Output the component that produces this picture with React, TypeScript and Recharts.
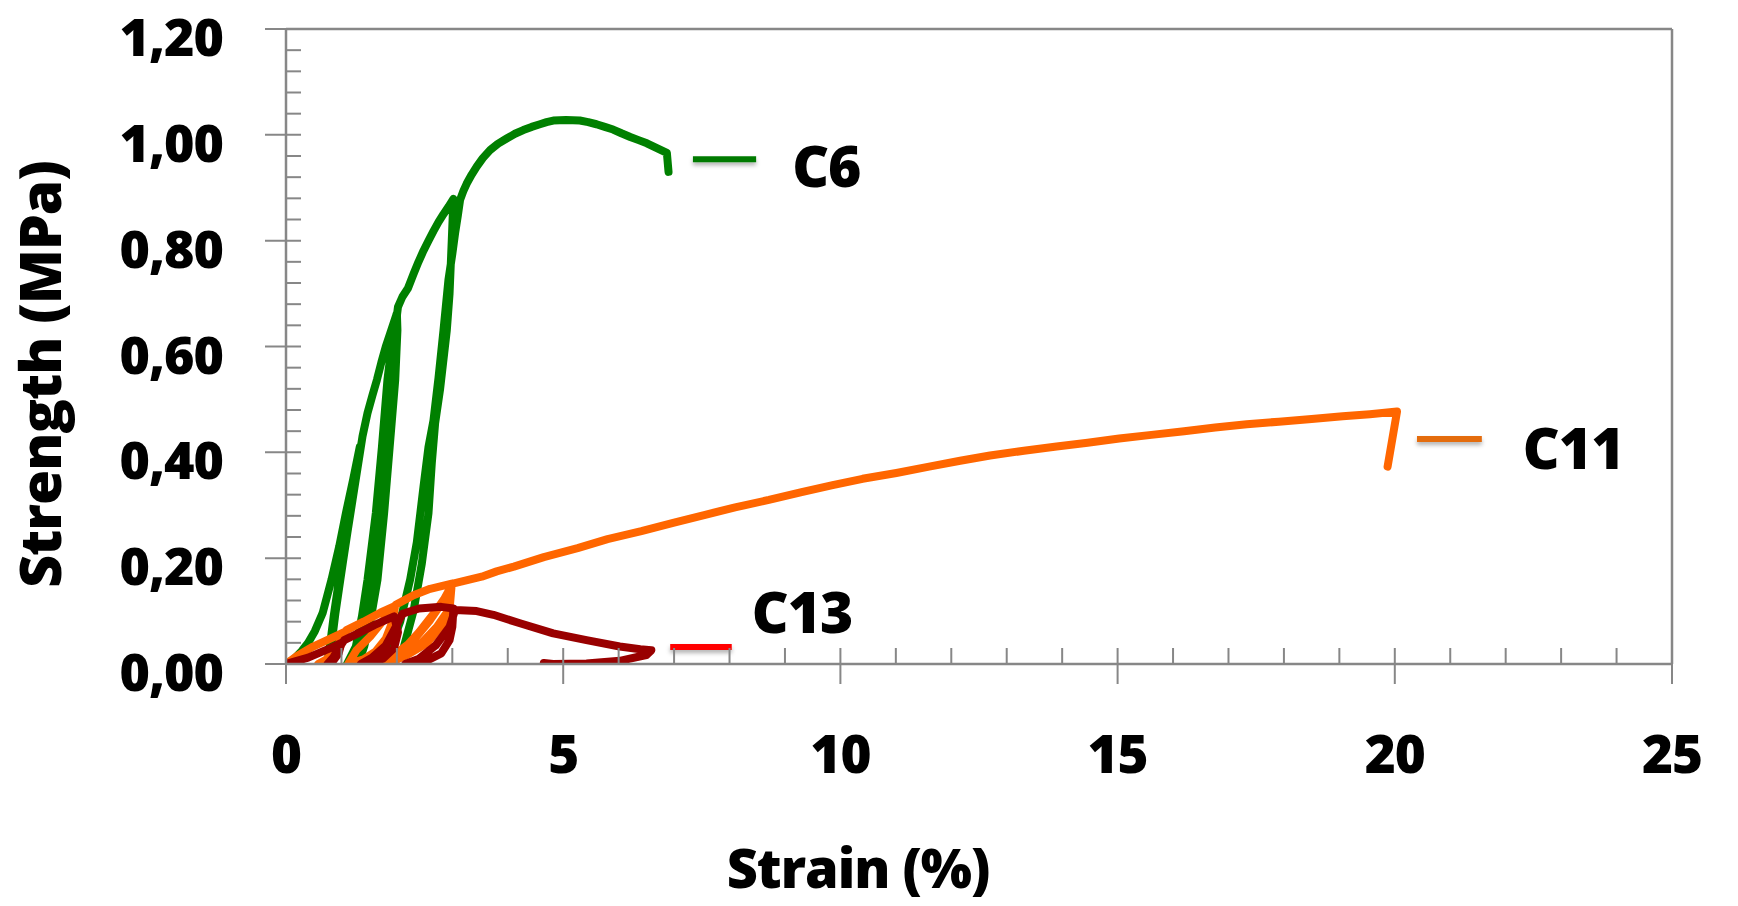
import { Line, LineChart, ReferenceLine, XAxis, YAxis } from 'recharts';

// axis ticks (minor ticks included; majors get a label)
const X_TICKS = [0, 1, 2, 3, 4, 5, 6, 7, 8, 9, 10, 11, 12, 13, 14, 15, 16, 17, 18, 19, 20, 21, 22, 23, 24, 25];
const Y_TICKS = [
  0, 0.04, 0.08, 0.12, 0.16, 0.2, 0.24, 0.28, 0.32, 0.36, 0.4, 0.44, 0.48, 0.52, 0.56, 0.6,
  0.64, 0.68, 0.72, 0.76, 0.8, 0.84, 0.88, 0.92, 0.96, 1.0, 1.04, 1.08, 1.12, 1.16, 1.2,
];

// C6: cyclic loading, three unload/reload loops then failure
const C6_STRAIN = [
  0, 0.13, 0.28, 0.4, 0.52, 0.66, 0.82, 0.96, 1.08, 1.21, 1.33,
  1.26, 1.17, 1.08, 1.0, 0.93, 0.86, 0.8, 0.76, 0.73,
  0.78, 0.83, 0.89, 0.96, 1.03, 1.11, 1.2, 1.29, 1.38, 1.47, 1.56, 1.64, 1.72, 1.8, 1.88, 1.94, 2.0,
  2.01, 1.97, 1.87, 1.77, 1.65, 1.52, 1.41, 1.3, 1.1,
  1.26, 1.37, 1.47, 1.62, 1.73, 1.83, 1.94, 1.99,
  1.97, 1.91, 1.8, 1.7, 1.56, 1.45, 1.33, 1.2,
  1.36, 1.5, 1.62, 1.72, 1.82, 1.92, 2.02,
  2.1, 2.2, 2.3, 2.39, 2.48, 2.57, 2.66, 2.75, 2.84, 2.93, 3.02,
  2.99, 2.95, 2.9, 2.78, 2.69, 2.63, 2.57, 2.45, 2.3, 2.12, 1.94, 1.7,
  1.88, 2.06, 2.24, 2.36, 2.48, 2.57, 2.66, 2.75, 2.84, 2.93, 3.0, 3.05, 3.1, 3.14, 3.2, 3.26, 3.35,
  3.44, 3.55, 3.68, 3.82, 3.98, 4.13, 4.28, 4.43, 4.58, 4.7, 4.82, 5.05, 5.3, 5.45, 5.6, 5.75, 5.9,
  6.05, 6.21, 6.36, 6.51, 6.69, 6.87, 6.9,
];
const C6_STRENGTH = [
  0, 0.008, 0.024, 0.04, 0.062, 0.096, 0.159, 0.222, 0.285, 0.348, 0.41,
  0.36, 0.3, 0.245, 0.19, 0.14, 0.09, 0.04, 0.012, 0,
  0.014, 0.045, 0.095, 0.145, 0.195, 0.25, 0.31, 0.37, 0.43, 0.474, 0.508, 0.537, 0.57, 0.6, 0.625, 0.644, 0.663,
  0.631, 0.537, 0.41, 0.285, 0.159, 0.08, 0.033, 0, 0,
  0.033, 0.09, 0.159, 0.285, 0.41, 0.537, 0.631, 0.66,
  0.6, 0.537, 0.41, 0.285, 0.159, 0.08, 0.033, 0,
  0.04, 0.13, 0.24, 0.36, 0.48, 0.59, 0.675,
  0.694, 0.71, 0.737, 0.76, 0.781, 0.8, 0.818, 0.835, 0.85, 0.864, 0.879,
  0.8, 0.7, 0.63, 0.52, 0.455, 0.38, 0.285, 0.19, 0.1, 0.03, 0, 0,
  0.03, 0.08, 0.16, 0.23, 0.335, 0.41, 0.46, 0.54, 0.63, 0.726, 0.775, 0.814, 0.848, 0.877, 0.894, 0.908, 0.925,
  0.94, 0.956, 0.971, 0.983, 0.993, 1.002, 1.009, 1.015, 1.02, 1.024, 1.027, 1.028, 1.027, 1.024, 1.02, 1.015, 1.01,
  1.003, 0.996, 0.99, 0.984, 0.975, 0.966, 0.93,
];

// C11
const C11_STRAIN = [
  0, 0.2, 0.49, 0.8, 1.05,
  1.0, 0.92, 0.78, 0.58,
  0.72, 0.88, 1.0, 1.09, 1.4, 1.7, 1.97,
  1.92, 1.8, 1.62, 1.4, 1.12,
  1.27, 1.52, 1.76, 1.98, 2.3, 2.6, 2.99,
  2.96, 2.84, 2.54, 2.18, 1.95, 1.72,
  1.99, 2.3, 2.6, 2.84, 2.97,
  2.92, 2.72, 2.45, 2.15, 1.9, 1.8,
  2.1, 2.4, 2.7, 2.9, 3.01,
  3.25, 3.53, 3.8, 4.11, 4.65, 5.26, 5.8, 6.41, 7.0, 7.56, 8.1, 8.71, 9.3, 9.86, 10.4, 11.01, 11.6, 12.16,
  12.7, 13.31, 13.9, 14.46, 15.03, 15.61, 16.2, 16.76, 17.33, 17.91, 18.5, 19.06, 19.55, 20.04, 19.87,
];
const C11_STRENGTH = [
  0, 0.015, 0.033, 0.048, 0.06,
  0.038, 0.018, 0.006, 0,
  0.008, 0.026, 0.046, 0.064, 0.08, 0.097, 0.11,
  0.08, 0.048, 0.024, 0.009, 0,
  0.026, 0.052, 0.083, 0.112, 0.13, 0.142, 0.152,
  0.115, 0.077, 0.039, 0.017, 0.006, 0,
  0.02, 0.045, 0.083, 0.12, 0.145,
  0.1, 0.07, 0.04, 0.02, 0.005, 0,
  0.025, 0.06, 0.1, 0.13, 0.152,
  0.158, 0.165, 0.175, 0.184, 0.202, 0.219, 0.236, 0.251, 0.267, 0.282, 0.296, 0.31, 0.325, 0.338, 0.35, 0.361, 0.373, 0.384,
  0.394, 0.403, 0.411, 0.418, 0.426, 0.433, 0.44, 0.447, 0.453, 0.458, 0.463, 0.468, 0.472, 0.477, 0.373,
];

// C13
const C13_STRAIN = [
  0, 0.4, 0.8, 1.0,
  0.95, 0.85, 0.75,
  0.85, 0.95, 1.05, 1.3, 1.6, 1.95,
  2.02, 1.95, 1.75, 1.5, 1.35,
  1.55, 1.8, 1.98, 2.1, 2.4, 2.8, 3.02,
  3.0, 2.95, 2.8, 2.55, 2.25, 2.15,
  2.4, 2.7, 2.95, 3.05, 3.44, 3.74, 4.22, 4.82, 5.42, 6.02, 6.39, 6.59,
  6.5, 6.02, 5.42, 4.82, 4.65,
];
const C13_STRENGTH = [
  0, 0.012, 0.03, 0.04,
  0.02, 0.006, 0,
  0.012, 0.03, 0.045, 0.058, 0.074, 0.09,
  0.06, 0.03, 0.01, 0.002, 0,
  0.012, 0.035, 0.07, 0.095, 0.105, 0.108, 0.105,
  0.07, 0.045, 0.02, 0.007, 0.001, 0,
  0.01, 0.035, 0.07, 0.102, 0.1, 0.093, 0.077, 0.058, 0.045, 0.033, 0.028, 0.026,
  0.017, 0.006, 0.001, 0, 0.002,
];

// in-plot legend entries
const LEGEND_NAMES = ['C6', 'C11', 'C13'];
const LEGEND_FROM = [7.34, 20.4, 6.93];
const LEGEND_TO = [8.48, 21.57, 8.04];
const LEGEND_LEVEL = [0.954, 0.425, 0.032];

const FONT = "'Open Sans', Lato, sans-serif";
const AXIS_COLOR = '#878787';

const SERIES = [
  { name: 'C6', xs: C6_STRAIN, ys: C6_STRENGTH, color: '#008000' },
  { name: 'C11', xs: C11_STRAIN, ys: C11_STRENGTH, color: '#ff6600' },
  { name: 'C13', xs: C13_STRAIN, ys: C13_STRENGTH, color: '#990000' },
];

const LEGEND_STYLE: Record<string, { color: string; dx: number; dy: number }> = {
  C6: { color: '#007a00', dx: 36, dy: 28 },
  C11: { color: '#e46c0a', dx: 41, dy: 30 },
  C13: { color: '#ff0000', dx: 20, dy: -14 },
};

const toRows = (xs: number[], ys: number[]) => xs.map((x, i) => ({ x, y: ys[i] }));

const isMultiple = (v: number, step: number) => Math.abs(v / step - Math.round(v / step)) < 1e-6;

function YTick({ x, y, payload }: any) {
  const v = payload.value;
  const major = isMultiple(v, 0.2);
  return (
    <g>
      <line x1={major ? x - 21 : x} x2={x + 15} y1={y} y2={y} stroke={AXIS_COLOR} strokeWidth={2} />
      {major && (
        <text x={x - 63} y={y + 27} textAnchor="end" fontFamily={FONT} fontWeight={800} fontSize={52} letterSpacing={-1} fill="#000">
          {v.toFixed(2).replace('.', ',')}
        </text>
      )}
    </g>
  );
}

function XTick({ x, y, payload }: any) {
  const v = payload.value;
  const major = isMultiple(v, 5);
  return (
    <g>
      <line x1={x} x2={x} y1={y - 16} y2={major ? y + 20 : y} stroke={AXIS_COLOR} strokeWidth={2} />
      {major && (
        <text x={x} y={y + 109} textAnchor="middle" fontFamily={FONT} fontWeight={800} fontSize={53} letterSpacing={-1} fill="#000">
          {v}
        </text>
      )}
    </g>
  );
}

function YTitle({ viewBox }: any) {
  const cx = viewBox.x + 19;
  const cy = viewBox.y + viewBox.height / 2 + 28;
  return (
    <text
      x={cx}
      y={cy}
      transform={`rotate(-90 ${cx} ${cy})`}
      textAnchor="middle"
      fontFamily={FONT}
      fontWeight={800}
      fontSize={57}
      letterSpacing={-1}
      fill="#000"
    >
      Strength (MPa)
    </text>
  );
}

function XTitle({ viewBox }: any) {
  return (
    <text
      x={viewBox.x + 572}
      y={viewBox.y + 224}
      textAnchor="middle"
      fontFamily={FONT}
      fontWeight={800}
      fontSize={54}
      letterSpacing={-1}
      fill="#000"
    >
      Strain (%)
    </text>
  );
}

function SeriesTag({ viewBox, text, dx, dy }: any) {
  if (!viewBox) return null;
  return (
    <text
      x={viewBox.x + viewBox.width + dx}
      y={viewBox.y + dy}
      fontFamily={FONT}
      fontWeight={800}
      fontSize={57}
      letterSpacing={-1}
      fill="#000"
    >
      {text}
    </text>
  );
}

export default function App() {
  return (
    <div style={{ width: 1738, height: 906, background: '#fff' }}>
      <style>{'body{margin:0}'}</style>
      <LineChart width={1738} height={906} margin={{ top: 29, right: 66, left: 42, bottom: 182 }}>
        <defs>
          <filter id="legendShadow" filterUnits="userSpaceOnUse" x="0" y="0" width="1738" height="906">
            <feDropShadow dx="0" dy="3" stdDeviation="2" floodColor="#000" floodOpacity="0.3" />
          </filter>
        </defs>
        <XAxis
          type="number"
          dataKey="x"
          domain={[0, 25]}
          ticks={X_TICKS}
          interval={0}
          height={60}
          tickSize={0}
          tickMargin={0}
          tickLine={false}
          tick={<XTick />}
          axisLine={{ stroke: AXIS_COLOR, strokeWidth: 2.5 }}
          label={<XTitle />}
          allowDataOverflow
        />
        <YAxis
          type="number"
          domain={[0, 1.2]}
          ticks={Y_TICKS}
          interval={0}
          width={244}
          tickSize={0}
          tickMargin={0}
          tickLine={false}
          tick={<YTick />}
          axisLine={{ stroke: AXIS_COLOR, strokeWidth: 2.5 }}
          label={<YTitle />}
          allowDataOverflow
        />
        <ReferenceLine y={1.2} stroke={AXIS_COLOR} strokeWidth={2.5} />
        <ReferenceLine x={25} stroke={AXIS_COLOR} strokeWidth={2.5} />
        {SERIES.map((s) => (
          <Line
            key={s.name}
            data={toRows(s.xs, s.ys)}
            dataKey="y"
            name={s.name}
            type="linear"
            stroke={s.color}
            strokeWidth={8}
            strokeLinejoin="round"
            strokeLinecap="round"
            dot={false}
            activeDot={false}
            isAnimationActive={false}
          />
        ))}
        {LEGEND_NAMES.map((name, i) => (
          <ReferenceLine
            key={name}
            segment={[
              { x: LEGEND_FROM[i], y: LEGEND_LEVEL[i] },
              { x: LEGEND_TO[i], y: LEGEND_LEVEL[i] },
            ]}
            stroke={LEGEND_STYLE[name].color}
            strokeWidth={6}
            filter="url(#legendShadow)"
            label={<SeriesTag text={name} dx={LEGEND_STYLE[name].dx} dy={LEGEND_STYLE[name].dy} />}
          />
        ))}
      </LineChart>
    </div>
  );
}
